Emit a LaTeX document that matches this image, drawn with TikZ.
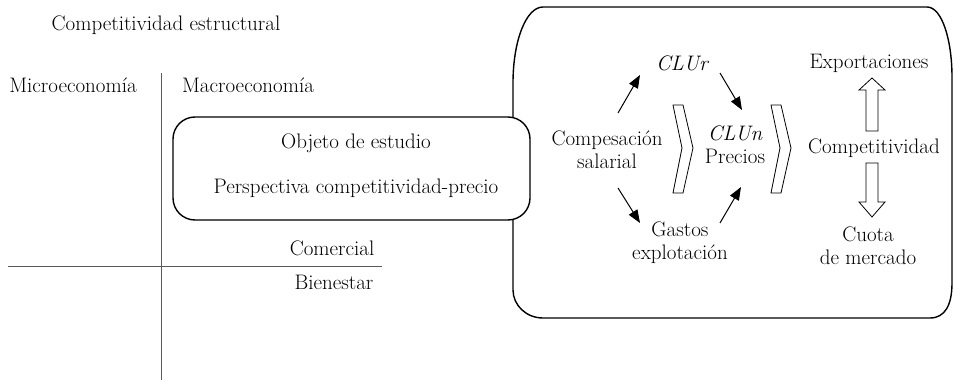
\documentclass[tikz,border=0pt]{standalone}
\usepackage{tikz}
\usetikzlibrary{arrows.meta}

\tikzset{
	txt/.style={inner sep=0pt, align=center, font=\fontsize{21}{23}\selectfont},
	axis/.style={line width=0.8pt, color=black!65},
	frame/.style={line width=1.4pt},
	arr/.style={line width=1pt, -{Triangle[length=13pt,width=10pt]}},
	hollow/.style={line width=0.8pt, fill=white},
}

\begin{document}
\begin{tikzpicture}[x=1pt, y=-1pt]
			%%%%% START %%%%%
			\useasboundingbox (0, 0) rectangle (954, 380);
			
			% left part: the two axes
			\node[txt] (titulo) at (166, 25) {Competitividad estructural};
			\node[txt] (micro) at (73, 85) {Microeconom\'ia};
			\node[txt] (macro) at (248, 85) {Macroeconom\'ia};
			\draw[axis] (161, 73) -- (161, 380);
			\draw[axis] (8, 266) -- (382, 266);
			\node[txt] (comercial) at (332, 248) {Comercial};
			\node[txt] (bienestar) at (334, 282) {Bienestar};
			
			% the big frame
			\draw[frame] (543, 7) -- (927, 7)
				.. controls (942, 7) and (952, 40) .. (952, 77)
				-- (952, 283)
				.. controls (952, 305) and (945, 318) .. (930, 318)
				-- (543, 318)
				.. controls (526, 318) and (513, 305) .. (513, 290)
				-- (513, 83)
				.. controls (513, 41) and (526, 7) .. (543, 7);
			
			% object of study
			\draw[frame, fill=white, rounded corners=22pt] (173, 117) rectangle (530, 220);
			\node[txt] (objeto) at (356, 143) {Objeto de estudio};
			\node[txt] (perspectiva) at (356, 188) {Perspectiva competitividad-precio};
			
			% inside the frame
			\node[txt] (comp) at (607, 150) {Compesaci\'on\\salarial};
			\node[txt] (clur) at (682, 63) {\itshape CLUr};
			\node[txt] (gastos) at (680, 243) {Gastos\\explotaci\'on};
			\node[txt] (clun) at (735, 145) {\itshape CLUn\\Precios};
			\node[txt] (export) at (869, 63) {Exportaciones};
			\node[txt] (compet) at (874, 148) {Competitividad};
			\node[txt] (cuota) at (868, 246) {Cuota\\de mercado};
			
			\draw[arr] ([shift={(11,-37)}]comp.center) -- ([shift={(-42,12)}]clur.center);
			\draw[arr] ([shift={(38,10)}]clur.center) -- ([shift={(7,-35)}]clun.center);
			\draw[arr] ([shift={(11,38)}]comp.center) -- ([shift={(-40,-20)}]gastos.center);
			\draw[arr] ([shift={(40,-20)}]gastos.center) -- ([shift={(6,42)}]clun.center);
			
			\foreach \cx in {673, 771}
				\draw[hollow] (\cx, 105) -- (\cx+10, 105) -- (\cx+20, 148) -- (\cx+10, 193)
					-- (\cx, 193) -- (\cx+9, 148) -- cycle;
			
			\draw[hollow] (866, 131) -- (866, 90) -- (859, 90) -- (872, 78) -- (885, 90)
				-- (878, 90) -- (878, 131) -- cycle;
			\draw[hollow] (866, 163) -- (866, 202) -- (859, 202) -- (872, 217) -- (885, 202)
				-- (878, 202) -- (878, 163) -- cycle;
			
			%%%%% END %%%%%
\end{tikzpicture}
\end{document}
